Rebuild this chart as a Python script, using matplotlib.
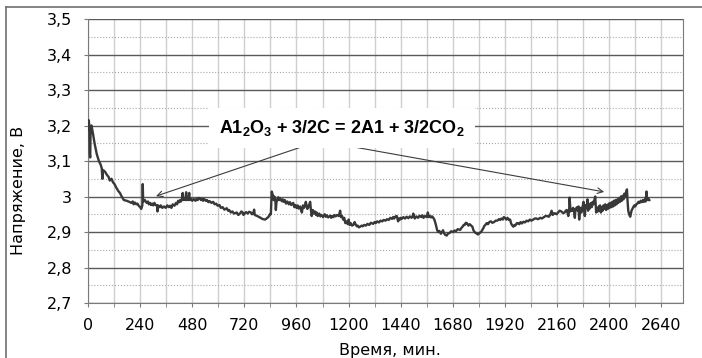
import numpy as np
import matplotlib
matplotlib.use('Agg')
import matplotlib.pyplot as plt
from matplotlib.ticker import MultipleLocator, FuncFormatter
from matplotlib.lines import Line2D

plt.rcParams['font.family'] = ['DejaVu Sans']
plt.rcParams['mathtext.fontset'] = 'custom'
plt.rcParams['mathtext.rm'] = 'Liberation Sans:bold'

# Время, мин. / напряжение, В (по 10 точек в строке)
time_min = [
    0, 3, 6, 7, 8, 10, 12, 16, 22, 30,
    40, 50, 58, 63, 66, 68, 78, 88, 95, 100,
    108, 115, 122, 130, 140, 147, 155, 165, 178, 190,
    200, 206, 210, 216, 222, 228, 232, 240, 245, 250,
    252, 254, 262, 270, 276, 280, 286, 290, 296, 300,
    306, 310, 318, 320, 322, 330, 335, 342, 350, 358,
    365, 372, 378, 384, 390, 398, 405, 410, 415, 420,
    424, 428, 432, 436, 438, 442, 448, 452, 454, 458,
    462, 466, 468, 474, 480, 487, 495, 500, 505, 510,
    516, 520, 525, 530, 535, 542, 548, 554, 560, 568,
    576, 583, 590, 597, 605, 612, 620, 628, 639, 645,
    650, 658, 665, 672, 685, 692, 700, 706, 712, 716,
    720, 728, 735, 742, 750, 755, 760, 765, 768, 775,
    780, 788, 795, 802, 808, 815, 820, 826, 830, 838,
    842, 846, 849, 852, 855, 858, 862, 865, 868, 872,
    876, 880, 885, 892, 897, 900, 906, 912, 918, 925,
    930, 936, 945, 950, 955, 960, 965, 970, 977, 981,
    985, 990, 995, 998, 1003, 1010, 1016, 1023, 1026, 1030,
    1035, 1040, 1045, 1050, 1053, 1058, 1065, 1070, 1075, 1082,
    1090, 1095, 1100, 1106, 1115, 1120, 1125, 1130, 1135, 1140,
    1148, 1155, 1161, 1165, 1170, 1175, 1180, 1185, 1192, 1196,
    1200, 1205, 1210, 1216, 1222, 1228, 1232, 1238, 1242, 1248,
    1253, 1260, 1265, 1272, 1280, 1287, 1295, 1303, 1313, 1320,
    1325, 1332, 1340, 1347, 1355, 1362, 1370, 1377, 1385, 1392,
    1400, 1405, 1410, 1416, 1422, 1428, 1432, 1435, 1440, 1445,
    1452, 1460, 1467, 1475, 1482, 1490, 1495, 1498, 1502, 1505,
    1512, 1520, 1527, 1535, 1540, 1545, 1552, 1560, 1565, 1570,
    1575, 1580, 1585, 1590, 1595, 1600, 1604, 1608, 1613, 1618,
    1625, 1630, 1635, 1640, 1645, 1652, 1658, 1665, 1672, 1680,
    1687, 1695, 1703, 1714, 1720, 1725, 1730, 1735, 1740, 1745,
    1752, 1758, 1765, 1770, 1775, 1780, 1785, 1790, 1795, 1800,
    1805, 1810, 1815, 1820, 1825, 1830, 1836, 1842, 1848, 1855,
    1862, 1870, 1877, 1885, 1892, 1898, 1904, 1910, 1915, 1920,
    1926, 1932, 1938, 1944, 1948, 1952, 1959, 1964, 1968, 1975,
    1980, 1986, 1992, 1998, 2005, 2012, 2020, 2027, 2035, 2042,
    2050, 2057, 2065, 2072, 2083, 2090, 2100, 2107, 2115, 2122,
    2128, 2135, 2140, 2145, 2150, 2158, 2165, 2172, 2180, 2188,
    2195, 2200, 2205, 2208, 2212, 2216, 2218, 2222, 2226, 2230,
    2234, 2236, 2239, 2242, 2245, 2248, 2252, 2255, 2259, 2262,
    2265, 2268, 2272, 2275, 2278, 2282, 2285, 2288, 2292, 2295,
    2298, 2300, 2303, 2306, 2309, 2312, 2316, 2320, 2324, 2328,
    2332, 2336, 2338, 2340, 2344, 2348, 2352, 2355, 2358, 2362,
    2366, 2370, 2374, 2378, 2382, 2386, 2390, 2394, 2398, 2402,
    2406, 2410, 2414, 2418, 2422, 2426, 2430, 2434, 2438, 2442,
    2446, 2450, 2454, 2458, 2462, 2466, 2470, 2474, 2478, 2482,
    2485, 2488, 2492, 2497, 2503, 2507, 2511, 2516, 2520, 2525,
    2530, 2535, 2540, 2545, 2550, 2555, 2560, 2564, 2568, 2572,
    2575, 2580, 2585,
]
voltage = [
    3.19, 3.215, 3.20, 3.15, 3.12, 3.11, 3.19, 3.20, 3.18, 3.15,
    3.12, 3.10, 3.09, 3.08, 3.05, 3.075, 3.07, 3.06, 3.055, 3.045,
    3.05, 3.04, 3.035, 3.025, 3.015, 3.01, 3.00, 2.99, 2.988, 2.985,
    2.982, 2.986, 2.978, 2.983, 2.978, 2.98, 2.975, 2.97, 2.965, 2.975,
    3.035, 2.985, 2.99, 2.982, 2.986, 2.978, 2.982, 2.976, 2.98, 2.975,
    2.982, 2.976, 2.975, 2.958, 2.975, 2.97, 2.975, 2.968, 2.972, 2.968,
    2.975, 2.97, 2.974, 2.968, 2.978, 2.974, 2.982, 2.978, 2.988, 2.984,
    2.99, 2.986, 2.992, 3.01, 2.99, 2.994, 2.99, 3.012, 2.99, 2.995,
    2.99, 3.01, 2.99, 2.994, 2.988, 2.993, 2.988, 2.994, 2.99, 2.996,
    2.995, 2.99, 2.994, 2.988, 2.993, 2.988, 2.99, 2.984, 2.987, 2.982,
    2.985, 2.978, 2.98, 2.974, 2.976, 2.968, 2.97, 2.963, 2.967, 2.96,
    2.962, 2.955, 2.958, 2.952, 2.955, 2.948, 2.952, 2.958, 2.955, 2.948,
    2.952, 2.956, 2.952, 2.957, 2.955, 2.95, 2.952, 2.963, 2.948, 2.946,
    2.945, 2.942, 2.94, 2.937, 2.936, 2.935, 2.937, 2.94, 2.942, 2.95,
    2.95, 3.014, 3.008, 3.002, 2.99, 3.0, 2.995, 2.962, 2.985, 2.99,
    2.998, 2.99, 2.995, 2.987, 2.992, 2.985, 2.99, 2.98, 2.986, 2.978,
    2.984, 2.976, 2.982, 2.97, 2.976, 2.968, 2.975, 2.966, 2.972, 2.962,
    2.955, 2.975, 2.968, 2.972, 2.985, 2.965, 2.972, 2.985, 2.965, 2.945,
    2.962, 2.952, 2.958, 2.948, 2.955, 2.945, 2.952, 2.944, 2.948, 2.942,
    2.95, 2.943, 2.947, 2.941, 2.946, 2.94, 2.945, 2.942, 2.948, 2.944,
    2.948, 2.945, 2.96, 2.942, 2.945, 2.935, 2.94, 2.925, 2.93, 2.922,
    2.935, 2.92, 2.925, 2.918, 2.92, 2.928, 2.922, 2.916, 2.918, 2.913,
    2.915, 2.918, 2.916, 2.92, 2.918, 2.923, 2.92, 2.926, 2.923, 2.928,
    2.925, 2.93, 2.927, 2.932, 2.93, 2.934, 2.932, 2.936, 2.934, 2.94,
    2.937, 2.942, 2.938, 2.944, 2.945, 2.93, 2.938, 2.934, 2.94, 2.937,
    2.942, 2.938, 2.943, 2.939, 2.944, 2.94, 2.945, 2.952, 2.942, 2.938,
    2.944, 2.94, 2.946, 2.942, 2.947, 2.94, 2.945, 2.942, 2.955, 2.942,
    2.945, 2.941, 2.944, 2.94, 2.935, 2.925, 2.915, 2.905, 2.90, 2.903,
    2.895, 2.90, 2.905, 2.896, 2.892, 2.89, 2.896, 2.897, 2.902, 2.90,
    2.904, 2.903, 2.908, 2.906, 2.912, 2.915, 2.92, 2.92, 2.926, 2.925,
    2.918, 2.922, 2.918, 2.915, 2.905, 2.90, 2.897, 2.897, 2.893, 2.895,
    2.898, 2.90, 2.905, 2.91, 2.917, 2.92, 2.925, 2.922, 2.928, 2.93,
    2.926, 2.928, 2.932, 2.932, 2.936, 2.934, 2.938, 2.935, 2.942, 2.94,
    2.935, 2.94, 2.934, 2.935, 2.925, 2.92, 2.915, 2.92, 2.918, 2.925,
    2.925, 2.922, 2.928, 2.924, 2.929, 2.927, 2.932, 2.93, 2.935, 2.932,
    2.935, 2.938, 2.938, 2.936, 2.94, 2.938, 2.942, 2.945, 2.945, 2.943,
    2.948, 2.96, 2.948, 2.952, 2.953, 2.95, 2.955, 2.96, 2.958, 2.953,
    2.955, 2.96, 2.962, 2.955, 2.945, 2.965, 2.997, 2.958, 2.965, 2.96,
    2.968, 2.965, 2.955, 2.94, 2.965, 2.965, 2.97, 2.96, 2.972, 2.935,
    2.96, 2.968, 2.955, 2.965, 2.972, 2.985, 2.96, 2.945, 2.975, 2.97,
    2.978, 2.992, 2.96, 2.978, 2.965, 2.975, 2.982, 2.97, 2.985, 2.978,
    2.99, 3.0, 2.975, 2.955, 2.965, 2.958, 2.972, 2.96, 2.975, 2.955,
    2.97, 2.96, 2.975, 2.965, 2.978, 2.962, 2.975, 2.965, 2.98, 2.968,
    2.982, 2.97, 2.985, 2.972, 2.988, 2.975, 2.99, 2.978, 2.992, 2.982,
    2.995, 2.985, 3.0, 2.988, 3.002, 2.992, 3.008, 2.998, 3.012, 3.02,
    2.985, 2.96, 2.95, 2.943, 2.96, 2.965, 2.97, 2.975, 2.972, 2.978,
    2.98, 2.985, 2.982, 2.988, 2.984, 2.99, 2.985, 2.992, 2.986, 3.014,
    2.99, 2.995, 2.99,
]

x_ticks = list(range(0, 2641, 240))
reaction = r'A1$_2$O$_3$ + 3/2C = 2A1 + 3/2CO$_2$'

fig = plt.figure(figsize=(7.02, 3.58), dpi=100)
ax = fig.add_axes([0.1254, 0.1536, 0.8475, 0.7933])

ax.plot(time_min, voltage, color='#383838', linewidth=1.7, zorder=3)

ax.set_xlim(0, 2740)
ax.set_ylim(2.7, 3.5)
ax.set_xticks(x_ticks)
ax.xaxis.set_minor_locator(MultipleLocator(120))
ax.yaxis.set_major_locator(MultipleLocator(0.1))
ax.yaxis.set_minor_locator(MultipleLocator(0.05))
ax.yaxis.set_major_formatter(FuncFormatter(
    lambda v, p: ('%.1f' % v).replace('.', ',').replace(',0', '')))

ax.grid(True, which='major', axis='y', color='#5a5a5a', linewidth=1.0)
ax.grid(True, which='minor', axis='y', color='#a8a8a8', linestyle=':', linewidth=0.8)
ax.grid(True, which='both', axis='x', color='#cfcfcf', linewidth=1.0)
ax.set_axisbelow(True)

for side in ['left', 'bottom', 'right']:
    ax.spines[side].set_color('#7a7a7a')
ax.spines['top'].set_visible(False)

ax.tick_params(axis='both', which='both', direction='out', colors='#7a7a7a',
               labelcolor='black', labelsize=11.5)
ax.tick_params(axis='x', which='both', length=3, pad=8)
ax.tick_params(axis='y', which='major', length=3, pad=8.5)
ax.tick_params(axis='y', which='minor', length=0)

ax.set_xlabel('Время, мин.', fontsize=11.5)
ax.set_ylabel('Напряжение, В', fontsize=11.5)
ax.xaxis.set_label_coords(0.508, -0.141)
ax.yaxis.set_label_coords(-0.104, 0.398)

ax.text(1170, 3.193, reaction, fontsize=13, fontweight='bold', family='Liberation Sans',
        ha='center', va='center', zorder=5,
        bbox=dict(facecolor='white', edgecolor='none', pad=7))
arrow = dict(arrowstyle='->', color='#3c3c3c', lw=0.8, shrinkA=0, shrinkB=0)
ax.annotate('', xy=(313, 3.001), xytext=(1009, 3.145), arrowprops=arrow, zorder=4)
ax.annotate('', xy=(2377, 3.013), xytext=(1147, 3.148), arrowprops=arrow, zorder=4)

# рамка вокруг рисунка
fig.add_artist(Line2D([6 / 702, 1], [1 - 7 / 358, 1 - 7 / 358], color='#707070', lw=1.2))
fig.add_artist(Line2D([6 / 702, 6 / 702], [0, 1 - 7 / 358], color='#707070', lw=1.2))

fig.savefig('out.png', dpi=100)
